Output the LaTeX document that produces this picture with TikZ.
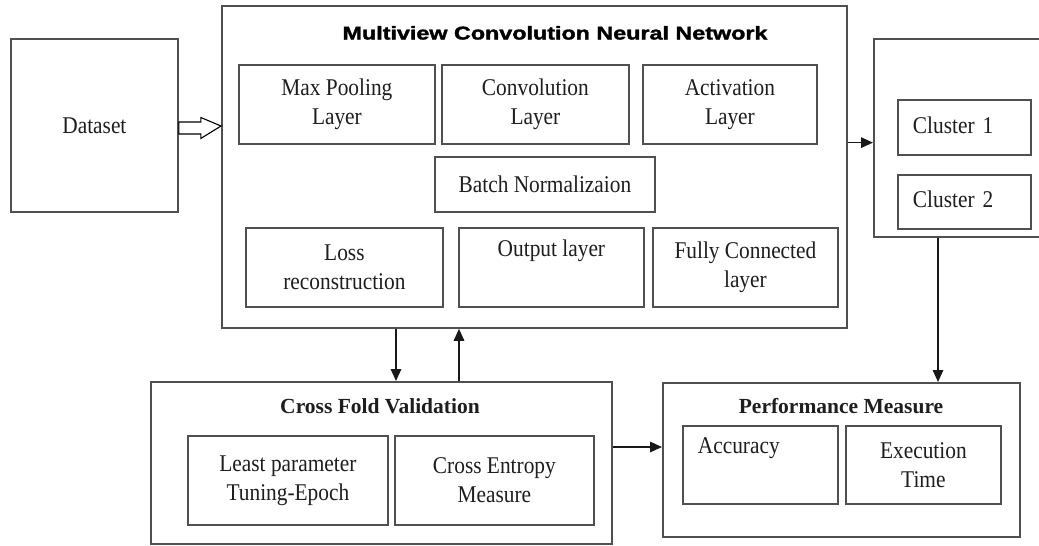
\documentclass[tikz,border=0pt]{standalone}
\usepackage{fontspec}
\setmainfont{Liberation Serif}[FakeStretch=0.89]
\newfontfamily\headserif{Liberation Serif}
\newfontfamily\headsans{Liberation Sans}[BoldFeatures={FakeBold=1.6}]
\usetikzlibrary{arrows.meta,calc}

\definecolor{framegray}{RGB}{80,80,80}
\definecolor{inkgray}{RGB}{30,30,30}
\definecolor{arrowgray}{RGB}{25,25,25}

\tikzset{
  box/.style={draw=framegray, line width=1.8pt, inner sep=0pt, anchor=north west,
              text=inkgray, align=center, font=\fontsize{24}{29}\selectfont},
  leftbox/.style={box, align=left, inner xsep=15pt},
  heading/.style={anchor=base, inner sep=0pt, text=inkgray,
                  font=\headserif\fontsize{21.5}{28}\selectfont\bfseries},
  arr/.style={draw=arrowgray, line width=1.6pt, -{Triangle[length=12pt,width=10.5pt]}},
}

\begin{document}
\begin{tikzpicture}[x=1pt,y=-1pt]
\clip (0,0) rectangle (1039,546);
\fill[white] (0,0) rectangle (1039,546);

% input
\node[box, minimum width=167pt, minimum height=173pt] (ds) at (10,38) {Dataset};

% network block
\node[box, minimum width=625pt, minimum height=322pt] (mcnn) at (221,5) {};
\node[anchor=base, inner sep=0pt, text=black]
  (mcnntitle) at (555,39.5) {\scalebox{1.26}[1]{\headsans\fontsize{18.5}{22}\selectfont\bfseries Multiview Convolution Neural Network}};

\node[box, minimum width=196pt, minimum height=79pt] (maxpool) at (238,64) {Max Pooling\\Layer};
\node[box, minimum width=187pt, minimum height=79pt] (conv) at (441,64) {Convolution\\Layer};
\node[box, minimum width=174pt, minimum height=79pt] (act) at (642,64) {Activation\\Layer};
\node[box, minimum width=220pt, minimum height=55pt] (batch) at (434,156) {Batch Normalizaion};
\node[box, minimum width=197pt, minimum height=79pt] (loss) at (245,227) {Loss\\reconstruction};
\node[box, minimum width=185pt, minimum height=79pt] (outl) at (458,227) {Output layer\\\strut};
\node[box, minimum width=185pt, minimum height=79pt] (fc) at (652,227) {Fully Connected\\layer};

% clusters
\node[box, minimum width=220pt, minimum height=198pt] (clus) at (873,38) {};
\node[leftbox, text width=103pt, minimum width=133pt, minimum height=55pt] (c1) at (897,99) {\strut Cluster 1};
\node[leftbox, text width=103pt, minimum width=133pt, minimum height=54pt] (c2) at (897,174) {\strut Cluster 2};

% validation block
\node[box, minimum width=461pt, minimum height=162pt] (cfv) at (150,381) {};
\node[heading] (cfvtitle) at (380,413) {Cross Fold Validation};
\node[box, minimum width=200pt, minimum height=89pt] (lp) at (187,435) {Least parameter\\Tuning-Epoch};
\node[box, minimum width=199pt, minimum height=89pt] (ce) at (394,435) {Cross Entropy\\Measure};

% evaluation block
\node[box, minimum width=357pt, minimum height=154pt] (pm) at (662,382) {};
\node[heading] (pmtitle) at (841,413) {Performance Measure};
\node[leftbox, text width=125pt, minimum width=155pt, minimum height=78pt] (acc) at (682,425) {Accuracy\\\strut};
\node[box, minimum width=155pt, minimum height=78pt] (ex) at (845,425) {Execution\\Time};

% hollow block arrow: dataset -> network
\coordinate (ha) at ($(ds.north east)+(0,88)$);
\coordinate (hb) at ($(mcnn.north west)+(0,121)$);
\draw[draw=black, line width=1.1pt, line join=miter]
  ($(ha)+(0,-4)$) -- ($(ha)+(22,-4)$) -- ($(ha)+(22,-8.5)$) --
  (hb) --
  ($(ha)+(22,12.5)$) -- ($(ha)+(22,8)$) -- ($(ha)+(0,8)$) -- cycle;

% network -> clusters
\coordinate (nc) at ($(mcnn.north east)!0.425!(mcnn.south east)$);
\draw[arr] (nc) -- (nc -| clus.west);

% clusters -> performance
\coordinate (cp) at ($(clus.south west)+(65,0)$);
\draw[arr] (cp) -- (cp |- pm.north);

% network <-> validation
\coordinate (dn) at ($(cfv.north west)+(246,0)$);
\draw[arr] (dn |- mcnn.south) -- (dn);
\coordinate (up) at ($(cfv.north west)+(309,0)$);
\draw[arr] (up) -- (up |- mcnn.south);

% validation -> performance
\coordinate (vp) at ($(cfv.north east)+(0,66)$);
\draw[arr] (vp) -- (vp -| pm.west);
\end{tikzpicture}
\end{document}
